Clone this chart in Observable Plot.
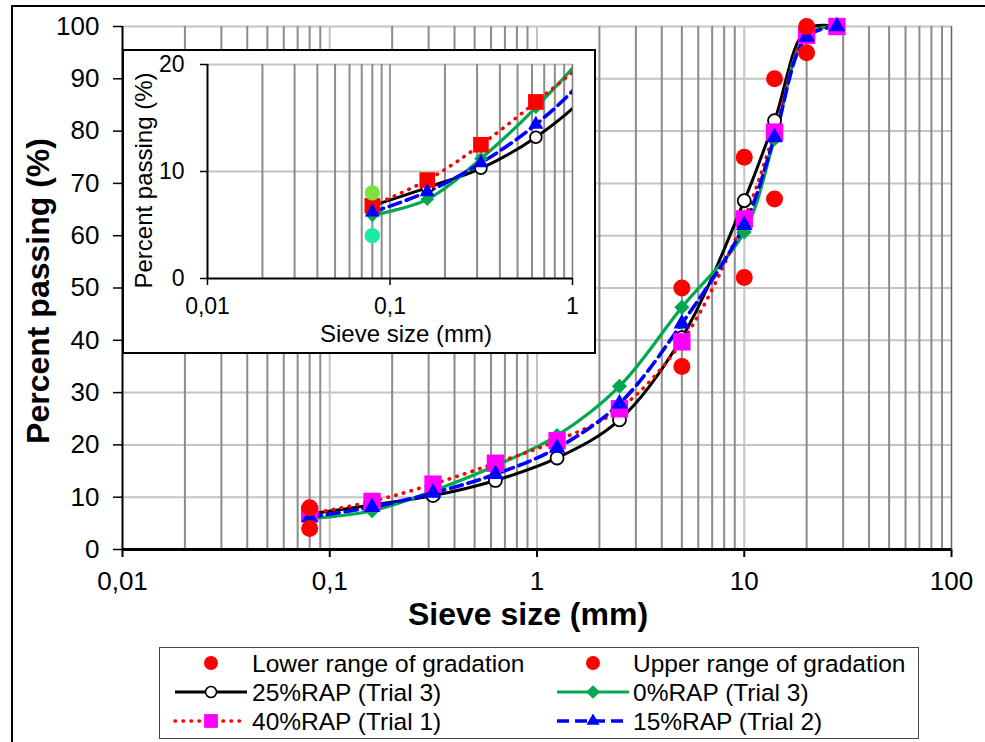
<!DOCTYPE html>
<html>
<head>
<meta charset="utf-8">
<script src="https://cdn.jsdelivr.net/npm/d3@7"></script>
<script src="https://cdn.jsdelivr.net/npm/@observablehq/plot@0.6"></script>
<style>
  body { margin: 0; background: #fff; font-family: "Liberation Sans", Arial, sans-serif; }
  #wrap { position: relative; width: 985px; height: 742px; overflow: hidden; background: #fff; }
  #frame { position: absolute; left: 11px; top: 5px; width: 1100px; height: 900px; border-left: 2px solid #000; border-top: 2px solid #000; }
  #main { position: absolute; left: 0; top: 0; }
  #insetbox { position: absolute; left: 122px; top: 49px; width: 474px; height: 305px; box-sizing: border-box; border: 2px solid #000; background: #fff; }
  #inset { position: absolute; left: 123px; top: 50px; }
  #legend { position: absolute; left: 159px; top: 647px; width: 760px; height: 92px; box-sizing: border-box; border: 1.5px solid #444; background: #fff; }
  svg { overflow: visible; }
</style>
</head>
<body>
<div id="wrap">
  <div id="frame"></div>
  <div id="main"></div>
  <div id="insetbox"></div>
  <div id="inset"></div>
  <div id="legend"></div>
</div>
<script>
// ---- data ----
const sieve = [0.08, 0.16, 0.315, 0.63, 1.25, 2.5, 5, 10, 14, 20, 28];
const rap25 = [6.8, 8.5, 10.3, 13.2, 17.5, 24.8, 40.5, 66.7, 82.0, 99.5, 100];
const rap0  = [5.9, 7.4, 11.2, 16.0, 21.8, 31.2, 46.3, 60.7, 78.5, 98.5, 100];
const rap40 = [6.8, 9.2, 12.5, 16.5, 20.8, 26.9, 39.7, 63.2, 79.8, 98.3, 100];
const rap15 = [6.2, 8.1, 10.8, 14.4, 19.4, 27.9, 43.2, 62.0, 78.8, 98.0, 100];
const gradSieve = [0.08, 5, 10, 14, 20];
const gradLower = [4, 35, 52, 67, 95];
const gradUpper = [8, 50, 75, 90, 100];
const seriesNames = ["Lower range of gradation", "Upper range of gradation", "25%RAP (Trial 3)", "0%RAP (Trial 3)", "40%RAP (Trial 1)", "15%RAP (Trial 2)"];
const xTicks = [0.01, 0.1, 1, 10, 100];
const yTicks = [0, 10, 20, 30, 40, 50, 60, 70, 80, 90, 100];
const insetXTicks = [0.01, 0.1, 1];
const insetYTicks = [0, 10, 20];
const xTitle = "Sieve size (mm)";
const yTitle = "Percent passing (%)";

// ---- tables ----
const toRows = (xs, ys) => xs.map((x, i) => ({x, y: ys[i]}));
const r25 = toRows(sieve, rap25), r0 = toRows(sieve, rap0), r40 = toRows(sieve, rap40), r15 = toRows(sieve, rap15);
const gLow = toRows(gradSieve, gradLower), gUp = toRows(gradSieve, gradUpper);
const fmt = d => String(d).replace(".", ",");
const FONT = "'Liberation Sans', Arial, sans-serif";

const styleSpec = {
  black: {stroke: "#000", strokeWidth: 3},
  green: {stroke: "#00a84f", strokeWidth: 3.2},
  red: {stroke: "#ff0000", strokeWidth: 3.6, strokeDasharray: "0.5 7.5", strokeLinecap: "round"},
  blue: {stroke: "#0000ff", strokeWidth: 3.6, strokeDasharray: "12 6"}
};
const curve = {curve: "catmull-rom"};

function seriesMarks(clip, sqColor, lowColor, upColor, sc) {
  const c = {clip};
  return [
    Plot.line(r25, {x: "x", y: "y", ...curve, ...styleSpec.black, ...c}),
    Plot.line(r0, {x: "x", y: "y", ...curve, ...styleSpec.green, ...c}),
    Plot.line(r40, {x: "x", y: "y", ...curve, ...styleSpec.red, ...c}),
    Plot.line(r15, {x: "x", y: "y", ...curve, ...styleSpec.blue, ...c}),
    Plot.dot(r25, {x: "x", y: "y", r: 6.5 * sc, stroke: "#000", strokeWidth: 1.8, fill: "#fff", ...c}),
    Plot.dot(r0, {x: "x", y: "y", symbol: "diamond2", r: 6.8 * sc, fill: "#00a84f", stroke: "none", ...c}),
    Plot.dot(r40, {x: "x", y: "y", symbol: "square", r: 9.8 * sc, fill: sqColor, stroke: "none", ...c}),
    Plot.dot(r15, {x: "x", y: "y", symbol: "triangle", r: 6.2 * sc, fill: "#0000ff", stroke: "none", ...c}),
    Plot.dot(gLow, {x: "x", y: "y", r: 8.5 * sc, fill: lowColor, stroke: "none", ...c}),
    Plot.dot(gUp, {x: "x", y: "y", r: 8.5 * sc, fill: upColor, stroke: "none", ...c})
  ];
}

// ---- main chart ----
const mainMinor = d3.scaleLog().domain([0.01, 100]).ticks().filter(t => !xTicks.some(m => Math.abs(m - t) < 1e-9));
const main = Plot.plot({
  width: 985, height: 742,
  marginLeft: 122, marginRight: 34, marginTop: 26, marginBottom: 193,
  style: {fontFamily: FONT, fontSize: "26px", color: "#000", background: "transparent"},
  x: {type: "log", domain: [0.01, 100]},
  y: {domain: [0, 100]},
  marks: [
    Plot.ruleY(yTicks.slice(1), {stroke: "#c4c4c4", strokeWidth: 2}),
    Plot.ruleX(xTicks.slice(1, 4), {stroke: "#c4c4c4", strokeWidth: 2}),
    Plot.ruleX(mainMinor, {stroke: "#8c8c8c", strokeWidth: 2}),
    Plot.ruleX([100], {stroke: "#666", strokeWidth: 1.5}),
    Plot.axisX({ticks: xTicks, tickFormat: fmt, tickSize: 8, tickPadding: 14, strokeWidth: 2, label: null, fontSize: 26}),
    Plot.axisY({ticks: yTicks, tickSize: 9, tickPadding: 14, strokeWidth: 1.5, label: null, fontSize: 26}),
    Plot.ruleX([0.01], {stroke: "#000", strokeWidth: 2}),
    Plot.ruleY([0], {stroke: "#000", strokeWidth: 3}),
    ...seriesMarks(false, "#ff00ff", "#ff0000", "#ff0000", 1),
    Plot.text([xTitle], {text: d => d, frameAnchor: "bottom", dy: 75, dx: -9, fontSize: 32, fontWeight: "bold", textAnchor: "middle"}),
    Plot.text([yTitle], {text: d => d, frameAnchor: "left", dx: -84, dy: 3, rotate: -90, fontSize: 32, fontWeight: "bold", textAnchor: "middle"})
  ]
});
document.getElementById("main").appendChild(main);

// ---- inset chart ----
const insetMinor = d3.scaleLog().domain([0.01, 1]).ticks().filter(t => !insetXTicks.some(m => Math.abs(m - t) < 1e-9));
const inset = Plot.plot({
  width: 472, height: 303,
  marginLeft: 84, marginRight: 23, marginTop: 14, marginBottom: 75,
  style: {fontFamily: FONT, fontSize: "23px", color: "#000", background: "transparent"},
  x: {type: "log", domain: [0.01, 1]},
  y: {domain: [0, 20]},
  marks: [
    Plot.ruleY([10, 20], {stroke: "#c4c4c4", strokeWidth: 2}),
    Plot.ruleX([0.1], {stroke: "#9a9a9a", strokeWidth: 2}),
    Plot.ruleX(insetMinor, {stroke: "#8c8c8c", strokeWidth: 2}),
    Plot.ruleX([1], {stroke: "#777", strokeWidth: 1.5}),
    Plot.axisX({ticks: insetXTicks, tickFormat: fmt, tickSize: 7, tickPadding: 12, strokeWidth: 1.5, label: null, fontSize: 23}),
    Plot.axisY({ticks: insetYTicks, tickSize: 7, tickPadding: 16, strokeWidth: 1.5, label: null, fontSize: 23}),
    Plot.ruleX([0.01], {stroke: "#000", strokeWidth: 2}),
    Plot.ruleY([0], {stroke: "#000", strokeWidth: 2}),
    ...seriesMarks(true, "#ff0000", "#1ee8a6", "#7de23c", 0.9),
    Plot.text([xTitle], {text: d => d, frameAnchor: "bottom", dy: 63, dx: 16, fontSize: 24, textAnchor: "middle"}),
    Plot.text([yTitle], {text: d => d, frameAnchor: "left", dx: -63, dy: 9, rotate: -90, fontSize: 24, textAnchor: "middle"})
  ]
});
document.getElementById("inset").appendChild(inset);

// ---- legend ----
const leg = d3.select("#legend").append("svg").attr("width", 760).attr("height", 92)
  .style("position", "absolute").style("left", "-1.5px").style("top", "-1.5px")
  .style("font-family", FONT).style("font-size", "24.5px");
const items = [
  {name: seriesNames[0], col: 0, row: 0, dot: "#ff0000"},
  {name: seriesNames[1], col: 1, row: 0, dot: "#ff0000"},
  {name: seriesNames[2], col: 0, row: 1, line: styleSpec.black, sym: "circle"},
  {name: seriesNames[3], col: 1, row: 1, line: styleSpec.green, sym: "diamond"},
  {name: seriesNames[4], col: 0, row: 2, line: styleSpec.red, sym: "square"},
  {name: seriesNames[5], col: 1, row: 2, line: styleSpec.blue, sym: "triangle"}
];
const colX = [{x0: 16, xc: 52, x1: 88, tx: 93}, {x0: 398, xc: 434, x1: 470, tx: 474}];
const rowY = [16, 45, 74];
items.forEach(it => {
  const c = colX[it.col], y = rowY[it.row];
  const g = leg.append("g");
  if (it.dot) {
    g.append("circle").attr("cx", c.xc).attr("cy", y).attr("r", 7).attr("fill", it.dot);
  } else {
    g.append("line").attr("x1", c.x0).attr("x2", c.x1).attr("y1", y).attr("y2", y)
      .attr("stroke", it.line.stroke).attr("stroke-width", it.line.strokeWidth)
      .attr("stroke-dasharray", it.line.strokeDasharray || null)
      .attr("stroke-linecap", it.line.strokeLinecap || "butt");
    if (it.sym === "circle") g.append("circle").attr("cx", c.xc).attr("cy", y).attr("r", 5.5).attr("fill", "#fff").attr("stroke", "#000").attr("stroke-width", 1.6);
    if (it.sym === "diamond") g.append("path").attr("transform", `translate(${c.xc},${y})`).attr("d", d3.symbol(d3.symbolDiamond2, 120)()).attr("fill", "#00a84f");
    if (it.sym === "square") g.append("path").attr("transform", `translate(${c.xc},${y})`).attr("d", d3.symbol(d3.symbolSquare, 190)()).attr("fill", "#ff00ff");
    if (it.sym === "triangle") g.append("path").attr("transform", `translate(${c.xc},${y})`).attr("d", d3.symbol(d3.symbolTriangle, 75)()).attr("fill", "#0000ff");
  }
  g.append("text").attr("x", c.tx).attr("y", y).attr("dy", "0.35em").text(it.name);
});
</script>
</body>
</html>
